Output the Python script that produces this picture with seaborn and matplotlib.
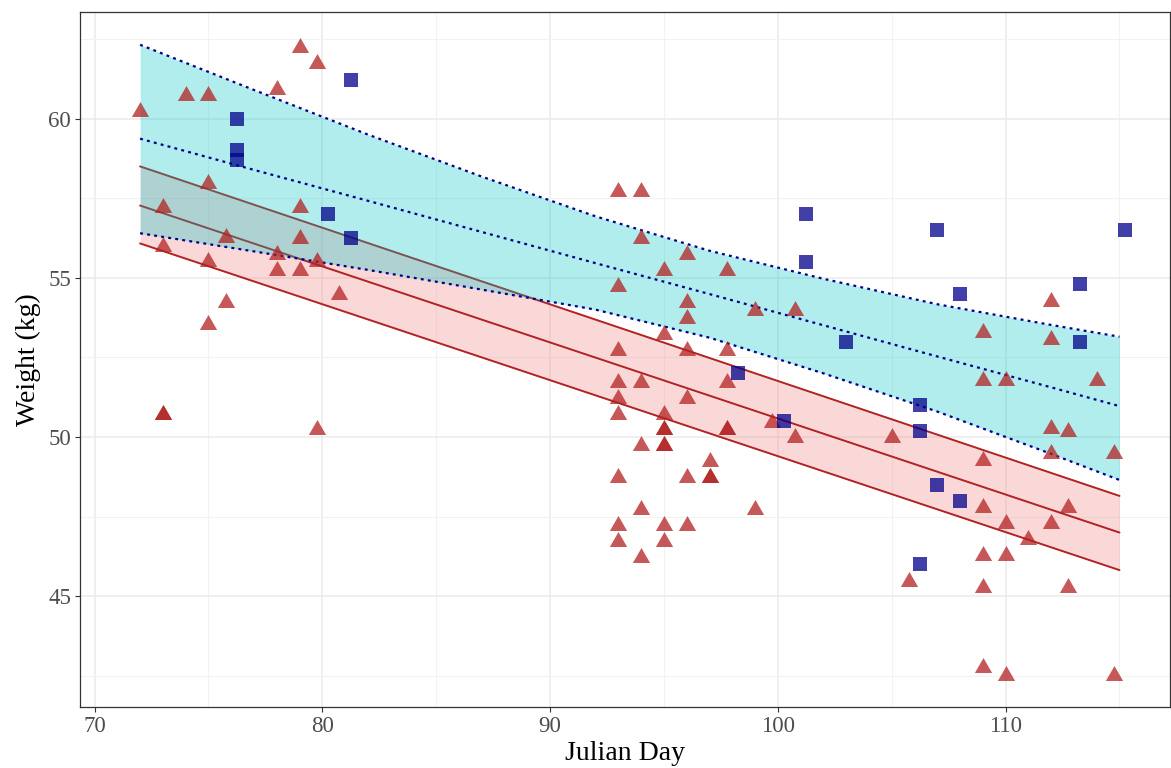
import numpy as np
import pandas as pd
import matplotlib
matplotlib.use("Agg")
import matplotlib.pyplot as plt
import seaborn as sns

# triangles (red group)
tri_x = [72, 73, 73, 73, 73, 74, 75, 75, 75, 75, 75.75, 75.75, 78, 78, 78, 79, 79, 79, 79,
         79.75, 79.75, 79.75, 80.75,
         93, 94, 94, 96, 95, 97.75, 93, 96, 96, 99, 100.75, 95, 93, 96, 97.75, 93, 94, 97.75,
         93, 96, 93, 95, 95, 95, 97.75, 97.75, 99.75, 100.75, 94, 95, 95, 97, 97, 97, 93, 96,
         94, 99, 93, 95, 96, 93, 95, 94,
         112, 109, 112, 109, 110, 114, 112, 112.75, 105, 112, 114.75, 109, 109, 112.75, 110,
         112, 111, 109, 110, 105.75, 109, 112.75, 109, 110, 114.75]
tri_y = [60.3, 57.3, 56.05, 50.8, 50.8, 60.8, 60.8, 58.05, 55.6, 53.6, 56.35, 54.3, 61.0, 55.8, 55.3,
         62.3, 57.3, 56.3, 55.3, 61.8, 55.6, 50.3, 54.55,
         57.8, 57.8, 56.3, 55.8, 55.3, 55.3, 54.8, 54.3, 53.8, 54.05, 54.05, 53.3, 52.8, 52.8, 52.8,
         51.8, 51.8, 51.8, 51.3, 51.3, 50.8, 50.8, 50.3, 50.3, 50.3, 50.3, 50.55, 50.05, 49.8, 49.8,
         49.8, 49.3, 48.8, 48.8, 48.8, 48.8, 47.8, 47.8, 47.3, 47.3, 47.3, 46.8, 46.8, 46.3,
         54.35, 53.35, 53.15, 51.85, 51.85, 51.85, 50.35, 50.25, 50.05, 49.55, 49.55, 49.35, 47.85,
         47.85, 47.35, 47.35, 46.85, 46.35, 46.35, 45.55, 45.35, 45.35, 42.85, 42.6, 42.6]

# squares (blue group)
sq_x = [76.25, 76.25, 76.25, 81.25, 80.25, 81.25, 101.25, 101.25, 103, 98.25, 100.25,
        107, 115.25, 108, 113.25, 113.25, 106.25, 106.25, 107, 108, 106.25]
sq_y = [60.0, 59.0, 58.7, 61.2, 57.0, 56.25, 57.0, 55.5, 53.0, 52.0, 50.5,
        56.5, 56.5, 54.5, 54.8, 53.0, 51.0, 50.2, 48.5, 48.0, 46.0]

# blue fit with band
blue_x = [72, 77, 82, 87, 92, 97, 102, 107, 112, 115]
blue_fit = [59.37, 58.39, 57.42, 56.44, 55.46, 54.49, 53.51, 52.53, 51.56, 50.97]
blue_lo = [56.40, 55.83, 55.25, 54.63, 54.00, 53.12, 52.00, 50.80, 49.47, 48.65]
blue_hi = [62.32, 60.90, 59.50, 58.18, 56.93, 55.85, 54.97, 54.17, 53.52, 53.15]

# red fit with band
red_x = [72, 115]
red_fit = [57.27, 47.00]
red_lo = [56.08, 45.82]
red_hi = [58.50, 48.15]

tri = pd.DataFrame({"day": tri_x, "weight": tri_y})
sq = pd.DataFrame({"day": sq_x, "weight": sq_y})
blue = pd.DataFrame({"day": blue_x, "fit": blue_fit, "lo": blue_lo, "hi": blue_hi})
red = pd.DataFrame({"day": red_x, "fit": red_fit, "lo": red_lo, "hi": red_hi})

sns.set_theme(style="white")
plt.rcParams["font.family"] = ["Liberation Serif", "DejaVu Serif"]

fig, ax = plt.subplots(figsize=(11.71, 7.68), dpi=100)
fig.subplots_adjust(left=0.0683, right=0.999, top=0.984, bottom=0.0794)

# red band first
ax.fill_between(red["day"], red["lo"], red["hi"], color="#f08080", alpha=0.3, linewidth=0, zorder=2)
for col in ["lo", "fit", "hi"]:
    sns.lineplot(data=red, x="day", y=col, ax=ax, color="#b22222", linewidth=1.4, zorder=3)

# blue band on top
ax.fill_between(blue["day"], blue["lo"], blue["hi"], color="#00c4c4", alpha=0.3, linewidth=0, zorder=4)
for col in ["lo", "fit", "hi"]:
    sns.lineplot(data=blue, x="day", y=col, ax=ax, color="#00008b", linewidth=1.6,
                 linestyle=(0, (1.3, 1.9)), zorder=5)

tri_marker = [(0, 0.433), (-0.5, -0.433), (0.5, -0.433)]
sns.scatterplot(data=tri, x="day", y="weight", ax=ax, marker=tri_marker, color="#b22222",
                alpha=0.75, s=155, linewidth=0, zorder=6)
sns.scatterplot(data=sq, x="day", y="weight", ax=ax, marker="s", color="#00008b",
                alpha=0.75, s=88, linewidth=0, zorder=7)

ax.set_xlim(69.36, 117.21)
ax.set_ylim(41.52, 63.34)
ax.set_xticks([70, 80, 90, 100, 110])
ax.set_yticks([45, 50, 55, 60])
ax.set_xticks([75, 85, 95, 105, 115], minor=True)
ax.set_yticks([42.5, 47.5, 52.5, 57.5, 62.5], minor=True)
ax.grid(which="major", color="#ebebeb", linewidth=1.1, zorder=0)
ax.grid(which="minor", color="#f2f2f2", linewidth=0.8, zorder=0)
ax.set_axisbelow(True)

for sp in ax.spines.values():
    sp.set_color("#333333")
    sp.set_linewidth(0.9)
ax.tick_params(which="major", direction="out", length=3.5, width=0.8, color="#333333",
               labelsize=16.5, labelcolor="#4d4d4d", pad=3, bottom=True, left=True)
ax.tick_params(which="minor", length=0)

ax.set_xlabel("Julian Day", fontsize=20, color="black", labelpad=3)
ax.set_ylabel("Weight (kg)", fontsize=20, color="black", labelpad=5)

fig.savefig("out.png", dpi=100)
